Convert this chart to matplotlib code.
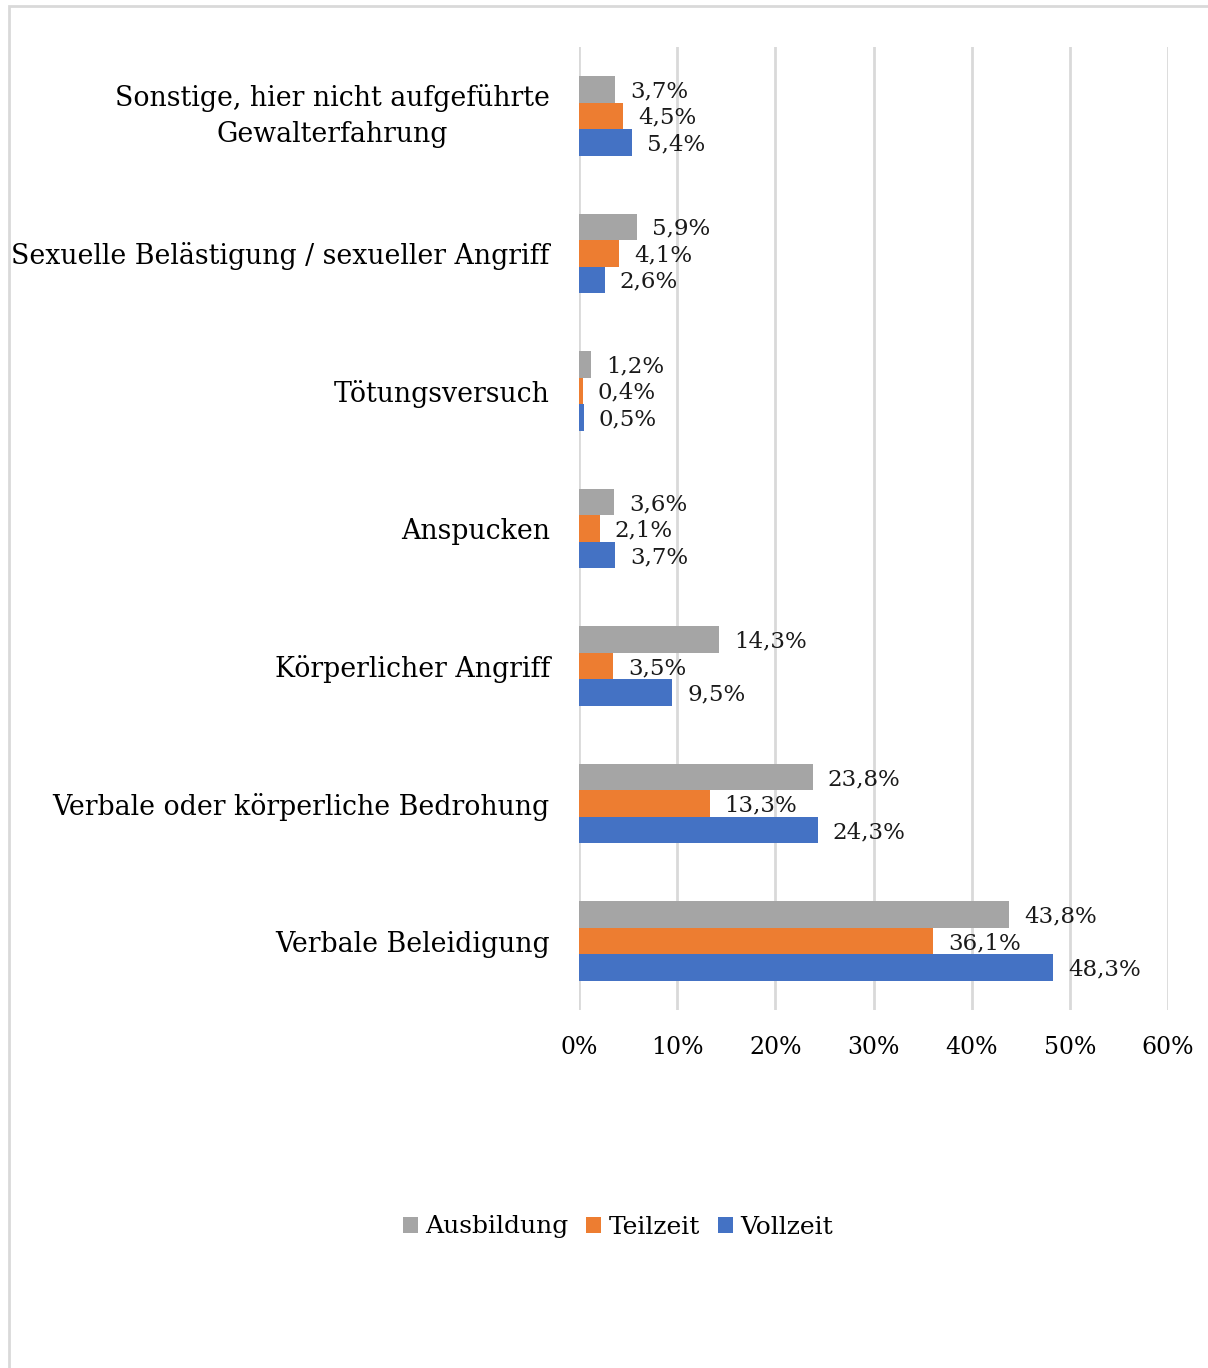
import matplotlib
matplotlib.use("Agg")
import matplotlib.pyplot as plt
import numpy as np
from matplotlib.patches import Rectangle

categories = ["Verbale Beleidigung",
              "Verbale oder körperliche Bedrohung",
              "Körperlicher Angriff",
              "Anspucken",
              "Tötungsversuch",
              "Sexuelle Belästigung / sexueller Angriff",
              "Sonstige, hier nicht aufgeführte\nGewalterfahrung"]
ausbildung = [43.8, 23.8, 14.3, 3.6, 1.2, 5.9, 3.7]
teilzeit = [36.1, 13.3, 3.5, 2.1, 0.4, 4.1, 4.5]
vollzeit = [48.3, 24.3, 9.5, 3.7, 0.5, 2.6, 5.4]
series_names = ["Ausbildung", "Teilzeit", "Vollzeit"]
colors = ["#a5a5a5", "#ed7d31", "#4472c4"]
xticks = [0, 10, 20, 30, 40, 50, 60]

plt.rcParams['font.family'] = ['DejaVu Serif']

fig = plt.figure(figsize=(12.08, 13.68), dpi=100)
ax = fig.add_axes([579/1208, 1 - 1010/1368, (1168-579)/1208, (1010-47)/1368])

# outer frame
fig.patches.append(Rectangle((9/1208, -0.05), 1.2, 1 - 6/1368 + 0.05, transform=fig.transFigure,
                             fill=False, edgecolor="#d9d9d9", linewidth=2, clip_on=False))

y = np.arange(len(categories))
h = 0.193
series = [ausbildung, teilzeit, vollzeit]
offsets = [h, 0, -h]
for vals, off, c, name in zip(series, offsets, colors, series_names):
    ax.barh(y + off, vals, height=h, color=c, label=name, zorder=3)
    for yi, v in zip(y, vals):
        ax.annotate(f"{v:.1f}%".replace(".", ","), (v, yi + off), xytext=(15, -2),
                    textcoords="offset pixels",
                    va="center", ha="left", fontsize=16.5, color="#1a1a1a", zorder=4)

ax.set_xlim(0, 60)
ax.set_ylim(-0.5, len(categories) - 0.5)
ax.set_xticks(xticks)
ax.set_xticklabels([f"{t}%" for t in xticks], fontsize=17)
ax.set_yticks(y)
ax.set_yticklabels(categories, fontsize=19.3, linespacing=1.45)
for lbl in ax.get_yticklabels():
    lbl.set_horizontalalignment("right")
    lbl.set_multialignment("center")
    if "\n" in lbl.get_text():
        lbl.set_verticalalignment("center")
ax.tick_params(axis="y", length=0, pad=21)
ax.tick_params(axis="x", length=0, pad=18.5)
for s in ax.spines.values():
    s.set_visible(False)
ax.grid(axis="x", color="#d9d9d9", linewidth=2, zorder=0)
ax.set_axisbelow(True)

ax.legend(loc="center", bbox_to_anchor=(618/1208, 1 - 1227/1368), bbox_transform=fig.transFigure,
          ncol=3, frameon=False, fontsize=18, handlelength=0.6, handleheight=0.6,
          handletextpad=0.3, columnspacing=0.7)

fig.savefig("out.png", dpi=100, facecolor="white")
